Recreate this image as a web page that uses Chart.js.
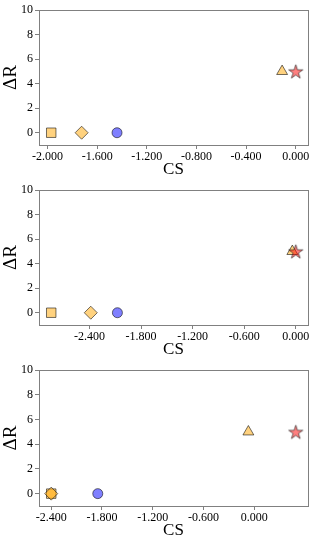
<!DOCTYPE html>
<html><head><meta charset="utf-8">
<script src="https://cdn.jsdelivr.net/npm/chart.js@4"></script>
<style>
html,body{margin:0;padding:0;background:#fff;width:316px;height:545px;overflow:hidden}
.p{position:absolute;left:0;width:316px}
</style></head><body>
<div class="p" style="top:0;height:180px"><canvas id="c1"></canvas></div>
<div class="p" style="top:180px;height:180px"><canvas id="c2"></canvas></div>
<div class="p" style="top:360px;height:181px"><canvas id="c3"></canvas></div>
<script>
// ---- data ----
const seriesNames = ['square', 'diamond', 'circle', 'triangle', 'star'];
const deltaR = [0, 0, 0, 5, 5];
const cs1 = [-1.97, -1.725, -1.44, -0.11, 0.0];
const cs2 = [-2.845, -2.385, -2.075, -0.04, 0.0];
const cs3 = [-2.40, -2.40, -1.85, -0.07, 0.49];
const xTicks1 = [-2.0, -1.6, -1.2, -0.8, -0.4, 0.0];
const xTicks2 = [-2.4, -1.8, -1.2, -0.6, 0.0];
const xTicks3 = [-2.4, -1.8, -1.2, -0.6, 0.0];
const yTicks = [0, 2, 4, 6, 8, 10];
const xLabel = 'CS';
const yLabel = 'ΔR';

// ---- styles ----
const ORANGE = 'rgba(255,165,0,0.5)';
const BLUE = 'rgba(0,0,255,0.5)';
const RED = 'rgba(255,0,0,0.5)';
const EDGE = 'rgba(0,0,0,0.55)';
const AXIS = '#808080';

function makeStar(R, fill, stroke) {
  const c = document.createElement('canvas');
  const s = Math.ceil(R * 2 + 4);
  c.width = s; c.height = s;
  const g = c.getContext('2d');
  const cx = s / 2, cy = s / 2 + R * 0.1, r = R * 0.382;
  g.beginPath();
  for (let i = 0; i < 10; i++) {
    const a = -Math.PI / 2 + i * Math.PI / 5;
    const rr = i % 2 === 0 ? R : r;
    const px = cx + rr * Math.cos(a), py = cy + rr * Math.sin(a);
    if (i === 0) g.moveTo(px, py); else g.lineTo(px, py);
  }
  g.closePath();
  g.fillStyle = fill; g.fill();
  g.lineWidth = 1; g.strokeStyle = stroke; g.stroke();
  return c;
}
const starImg = makeStar(7.4, RED, EDGE);

const markerStyles = [
  {pointStyle: 'rect', pointRadius: 6.7, backgroundColor: ORANGE, order: 4},
  {pointStyle: 'rectRot', pointRadius: 6.5, backgroundColor: ORANGE, order: 3},
  {pointStyle: 'circle', pointRadius: 5, backgroundColor: BLUE, order: 2},
  {pointStyle: 'triangle', pointRadius: 6.3, backgroundColor: ORANGE, order: 1},
  {pointStyle: starImg, pointRadius: 7, backgroundColor: RED, order: 0}
];

Chart.defaults.font.family = "'Liberation Serif', 'DejaVu Serif', serif";
Chart.defaults.color = '#000';

const frame = {
  id: 'frame',
  beforeDatasetsDraw(chart) {
    const {ctx, chartArea: a} = chart;
    ctx.save();
    ctx.strokeStyle = AXIS;
    ctx.lineWidth = 1;
    ctx.strokeRect(Math.round(a.left) + 0.5, Math.round(a.top) + 0.5,
      Math.round(a.right - a.left), Math.round(a.bottom - a.top));
    ctx.restore();
  }
};

function build(id, xs, xTicks) {
  const lo = Math.min(...xs), hi = Math.max(...xs), span = hi - lo;
  const datasets = seriesNames.map((name, i) => Object.assign({
    label: name,
    data: [{x: xs[i], y: deltaR[i]}],
    borderColor: EDGE,
    borderWidth: 1,
    showLine: false
  }, markerStyles[i]));
  new Chart(document.getElementById(id), {
    type: 'scatter',
    data: {datasets},
    plugins: [frame],
    options: {
      responsive: true,
      maintainAspectRatio: false,
      animation: false,
      layout: {padding: {top: 10, right: 7, left: 0, bottom: 0}},
      plugins: {legend: {display: false}, tooltip: {enabled: false}},
      scales: {
        x: {
          type: 'linear',
          min: lo - 0.05 * span,
          max: hi + 0.05 * span,
          afterBuildTicks: s => { s.ticks = xTicks.map(v => ({value: v})); },
          afterFit: s => { s.height = 35; },
          ticks: {callback: v => Number(v).toFixed(3), font: {size: 12}, padding: 1,
                  autoSkip: false, maxRotation: 0, color: '#000'},
          grid: {drawOnChartArea: false, drawTicks: true, tickLength: 4, color: AXIS},
          border: {display: false},
          title: {display: true, text: xLabel, font: {size: 17}, padding: 0, color: '#000'}
        },
        y: {
          min: -1, max: 10,
          afterBuildTicks: s => { s.ticks = yTicks.map(v => ({value: v})); },
          afterFit: s => { s.width = 39; },
          ticks: {font: {size: 12}, padding: 2, color: '#000'},
          grid: {drawOnChartArea: false, drawTicks: true, tickLength: 4, color: AXIS},
          border: {display: false},
          title: {display: true, text: yLabel, font: {size: 19}, padding: 0, color: '#000'}
        }
      }
    }
  });
}

build('c1', cs1, xTicks1);
build('c2', cs2, xTicks2);
build('c3', cs3, xTicks3);
</script>
</body></html>
